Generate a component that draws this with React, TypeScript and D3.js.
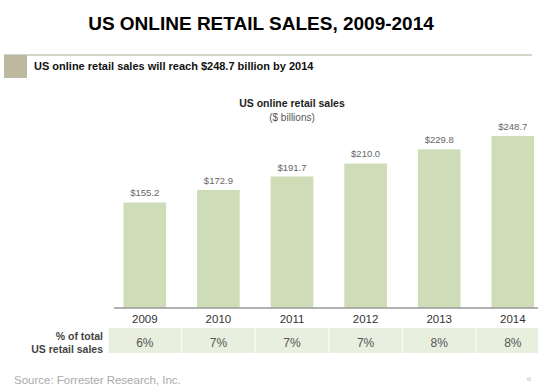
import React from 'react';
import * as d3 from 'd3';

const years = ['2009', '2010', '2011', '2012', '2013', '2014'];
const sales = [155.2, 172.9, 191.7, 210.0, 229.8, 248.7];
const shareOfTotal = ['6%', '7%', '7%', '7%', '8%', '8%'];

const W = 538;
const H = 387;
const baseline = 308;

const App: React.FC = () => {
  const x = d3.scaleBand<string>()
    .domain(years)
    .range([108, 108 + 6 * 73.6])
    .paddingInner(0.42)
    .paddingOuter(0.21);

  const y = d3.scaleLinear().domain([0, 250]).range([313, 135]);

  const font = 'Arial, "Liberation Sans", sans-serif';

  return (
    <svg
      width={W}
      height={H}
      style={{ position: 'absolute', left: 0, top: 0, background: '#fff', fontFamily: font }}
    >
      {/* main title */}
      <text x={261} y={30} textAnchor="middle" fontSize={19} fontWeight="bold" fill="#000">
        US ONLINE RETAIL SALES, 2009-2014
      </text>

      {/* headline strip */}
      <line x1={4} x2={532} y1={55} y2={55} stroke="#c9c6b6" strokeWidth={1.5} />
      <rect x={4} y={55} width={23} height={23} fill="#bdb9a0" />
      <text x={34} y={70} fontSize={11} fontWeight="bold" fill="#111">
        US online retail sales will reach $248.7 billion by 2014
      </text>

      {/* chart title */}
      <text x={292} y={107} textAnchor="middle" fontSize={10.5} fontWeight="bold" fill="#222">
        US online retail sales
      </text>
      <text x={292} y={121} textAnchor="middle" fontSize={10} fill="#555">
        ($ billions)
      </text>

      {/* bars */}
      {years.map((yr, i) => (
        <g key={yr}>
          <rect
            x={x(yr)}
            y={y(sales[i])}
            width={x.bandwidth()}
            height={baseline - y(sales[i])}
            fill="#cfdcb8"
          />
          <text
            x={(x(yr) as number) + x.bandwidth() / 2}
            y={y(sales[i]) - 6}
            textAnchor="middle"
            fontSize={9.5}
            fill="#666"
          >
            ${sales[i].toFixed(1)}
          </text>
        </g>
      ))}

      {/* axis */}
      <line x1={114} x2={W} y1={baseline} y2={baseline} stroke="#999" strokeWidth={1.5} />
      {years.map(yr => (
        <text
          key={yr}
          x={(x(yr) as number) + x.bandwidth() / 2}
          y={323}
          textAnchor="middle"
          fontSize={11.5}
          fill="#333"
        >
          {yr}
        </text>
      ))}

      {/* share row */}
      {years.map((yr, i) => (
        <g key={'s' + yr}>
          <rect
            x={(x(yr) as number) - x.step() * 0.21 + 0.5}
            y={328}
            width={x.step() - 1}
            height={25}
            fill="#e8efdf"
          />
          <text
            x={(x(yr) as number) + x.bandwidth() / 2}
            y={347}
            textAnchor="middle"
            fontSize={12}
            fill="#555"
          >
            {shareOfTotal[i]}
          </text>
        </g>
      ))}
      <text x={103} y={339.5} textAnchor="end" fontSize={10.5} fontWeight="bold" fill="#444">
        % of total
      </text>
      <text x={103} y={353} textAnchor="end" fontSize={10.5} fontWeight="bold" fill="#444">
        US retail sales
      </text>

      {/* source */}
      <text x={14} y={384} fontSize={11.5} fill="#aaa">
        Source: Forrester Research, Inc.
      </text>
      <text x={529} y={382} textAnchor="middle" fontSize={9} fill="#bbb">
        «
      </text>
    </svg>
  );
};

export default App;
